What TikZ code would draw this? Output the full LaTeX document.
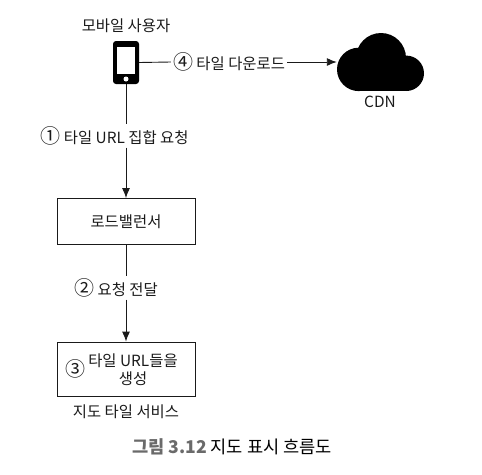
\documentclass[tikz,border=0pt]{standalone}
\usepackage{fontspec}
\setmainfont{Noto Sans CJK KR}
\usetikzlibrary{positioning,arrows.meta}
\definecolor{inkgray}{HTML}{1A1A1A}
\definecolor{capgray}{HTML}{6A6A6A}
\newcommand{\stepnum}[1]{{\fontsize{20}{18}\selectfont #1}}

\begin{document}
\begin{tikzpicture}[
	x=1pt,y=-1pt,
	lbl/.style={
		font=\fontsize{15.4}{18}\selectfont,
		text=inkgray,
		inner sep=2pt
	},
	squa/.style={
		draw=inkgray,
		line width=0.9pt,
		minimum width=138pt,
		inner sep=0pt
	},
	conn/.style={
		draw=inkgray,
		line width=0.9pt
	},
	tip/.style={
		-{Latex[length=10pt,width=8pt]}
	}
	]
	
	\useasboundingbox (0,0) rectangle (482,474);
	
	\node[lbl] at (126,26) (user) {모바일 사용자};
	
	\node[fill=black,rounded corners=3pt,minimum width=26pt,minimum height=43pt,inner sep=0pt] at (126,62.5)
	(phone) {};
	\node[fill=white,minimum width=18pt,minimum height=27pt,inner sep=0pt] at (126,60.5)
	(screen) {};
	\node[fill=white,circle,minimum size=5pt,inner sep=0pt] at (126,79)
	(homebtn) {};
	
	\fill (381,58) circle (25);
	\fill (358.7,69.4) circle (21.7);
	\fill (406.3,73.3) circle (17.7);
	\fill (358.7,69) rectangle (406.3,91);
	\node[minimum width=87pt,minimum height=58pt,inner sep=0pt] at (380.5,62)
	(cloud) {};
	\node[lbl] at (380,102) (cdn) {CDN};
	
	\node[lbl] at (229,62) (dl) {\stepnum{④} 타일 다운로드};
	\node[lbl] at (114.5,136) (req) {\stepnum{①} 타일 URL 집합 요청};
	
	\node[squa,minimum height=46pt,lbl,inner sep=0pt] at (126,221.5) (lb) {로드밸런서};
	\node[lbl] at (116,288) (fwd) {\stepnum{②} 요청 전달};
	
	\node[squa,minimum height=54pt] at (126,369) (tile) {};
	\node[lbl] at (75,369) (stepthree) {\stepnum{③}};
	\node[lbl,align=center] at (133,370) (make) {타일 URL들을\\생성};
	\node[lbl] at (126,412) (svc) {지도 타일 서비스};
	
	\node[lbl,text=black,font=\fontsize{17.6}{18}\selectfont] at (232,447)
	(caption) {\textcolor{capgray}{\textbf{그림 3.12}} 지도 표시 흐름도};
	
	\draw[conn] (phone.east) -- (dl.west);
	\draw[conn,tip] (dl.east) -- (cloud.west);
	\draw[conn] (phone.south) -- (phone.south |- req.north);
	\draw[conn,tip] (phone.south |- req.south) -- (lb.north);
	\draw[conn] (lb.south) -- (lb.south |- fwd.north);
	\draw[conn,tip] (lb.south |- fwd.south) -- (tile.north);
	
\end{tikzpicture}
\end{document}
